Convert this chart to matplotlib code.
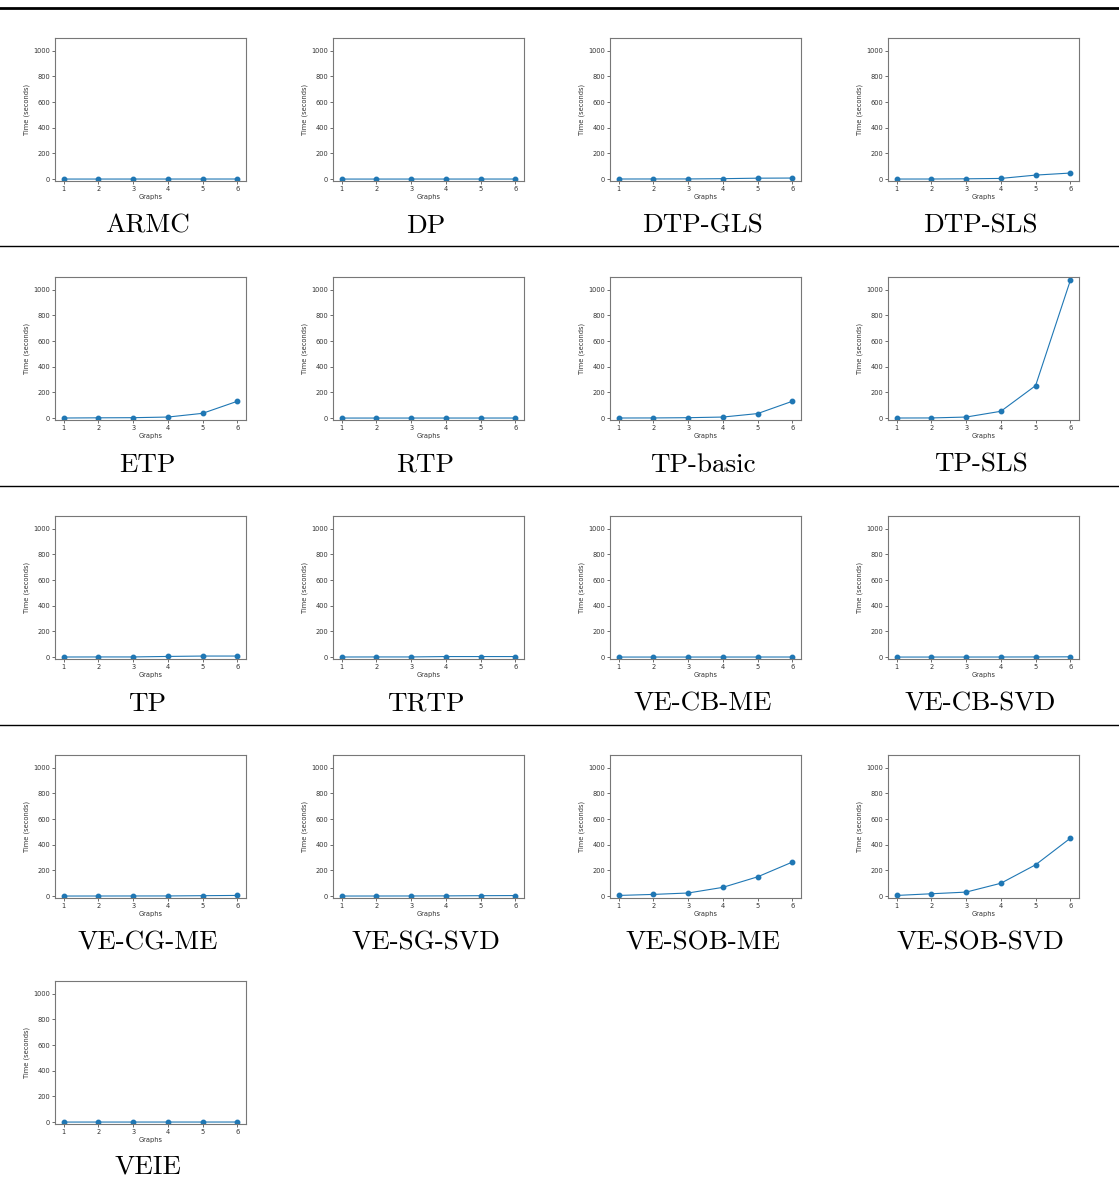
import matplotlib
matplotlib.use("Agg")
import matplotlib.pyplot as plt
from matplotlib.lines import Line2D

graphs = [1, 2, 3, 4, 5, 6]
names = ["ARMC", "DP", "DTP-GLS", "DTP-SLS",
         "ETP", "RTP", "TP-basic", "TP-SLS",
         "TP", "TRTP", "VE-CB-ME", "VE-CB-SVD",
         "VE-CG-ME", "VE-SG-SVD", "VE-SOB-ME", "VE-SOB-SVD",
         "VEIE"]
armc = [0.2, 0.2, 0.3, 0.3, 0.4, 0.5]
dp = [0.1, 0.1, 0.2, 0.2, 0.3, 0.3]
dtp_gls = [0.5, 0.8, 1, 3, 7, 8]
dtp_sls = [0.3, 0.5, 2, 5, 31, 47]
etp = [0.5, 2, 3, 8, 37, 131]
rtp = [0.1, 0.2, 0.2, 0.3, 0.3, 0.4]
tp_basic = [0.5, 1, 3, 8, 35, 131]
tp_sls = [0.5, 1, 8, 53, 253, 1073]
tp = [0.5, 1, 1, 5, 8, 8]
trtp = [0.5, 1, 1, 4, 4, 4]
ve_cb_me = [0.1, 0.2, 0.2, 0.3, 0.4, 0.5]
ve_cb_svd = [0.1, 0.2, 0.3, 0.5, 1, 2]
ve_cg_me = [0.3, 0.5, 0.8, 1, 3, 5]
ve_sg_svd = [0.3, 0.5, 0.8, 1.5, 3, 4]
ve_sob_me = [5, 13, 24, 68, 150, 265]
ve_sob_svd = [5, 18, 31, 100, 244, 451]
veie = [0.1, 0.2, 0.2, 0.3, 0.3, 0.4]
series = [armc, dp, dtp_gls, dtp_sls, etp, rtp, tp_basic, tp_sls,
          tp, trtp, ve_cb_me, ve_cb_svd, ve_cg_me, ve_sg_svd,
          ve_sob_me, ve_sob_svd, veie]

W, H = 1119, 1188
fig = plt.figure(figsize=(W / 100, H / 100), dpi=100)

col_left = [55, 333, 610, 888]
ax_w = 191
row_top = [38, 277, 516, 755, 981]
ax_h = 143
label_y = [226, 465, 704, 943, 1167]

for i, (name, vals) in enumerate(zip(names, series)):
    r, c = divmod(i, 4)
    l = col_left[c]
    t = row_top[r]
    ax = fig.add_axes([l / W, 1 - (t + ax_h) / H, ax_w / W, ax_h / H])
    ax.plot(graphs, vals, color="#1f77b4", marker="o", ms=3.2, lw=0.8)
    ax.set_ylim(-15, 1100)
    ax.set_xticks(graphs)
    ax.set_yticks([0, 200, 400, 600, 800, 1000])
    ax.tick_params(labelsize=4.8, length=2, width=0.5, pad=1.5, colors="#333333")
    ax.set_xlabel("Graphs", fontsize=4.8, labelpad=1.5, color="#333333")
    ax.set_ylabel("Time (seconds)", fontsize=4.8, labelpad=2, color="#333333")
    for s in ax.spines.values():
        s.set_linewidth(0.8)
        s.set_color("#777777")
    cx = l + ax_w / 2 - 3
    fig.text(cx / W, 1 - label_y[r] / H, name, family="cmr10", fontsize=19.5,
             ha="center", va="center")

# horizontal rules
for y, lw in [(8, 2.0), (246, 1.0), (486, 1.0), (725, 1.0)]:
    fig.add_artist(Line2D([0, 1], [1 - y / H, 1 - y / H], color="black", lw=lw,
                          transform=fig.transFigure))

fig.savefig("out.png", dpi=100, facecolor="white")
